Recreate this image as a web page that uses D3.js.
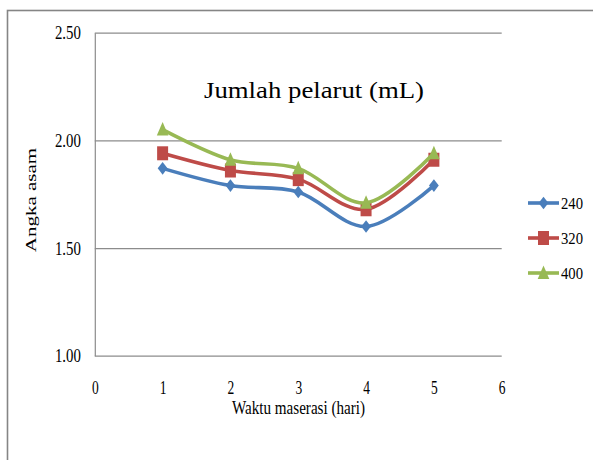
<!DOCTYPE html>
<html>
<head>
<meta charset="utf-8">
<script src="https://cdn.jsdelivr.net/npm/d3@7"></script>
<style>
  html, body { margin: 0; padding: 0; background: #fff; }
  svg { display: block; }
  text { font-family: "Liberation Serif", "Times New Roman", serif; fill: #000; }
</style>
</head>
<body>
<div id="chart"></div>
<script>
// ---- data ----
const days = [1, 2, 3, 4, 5];
const seriesNames = ["240", "320", "400"];
const values240 = [1.87, 1.79, 1.76, 1.60, 1.79];
const values320 = [1.94, 1.86, 1.82, 1.68, 1.91];
const values400 = [2.05, 1.91, 1.87, 1.71, 1.94];
const xTicks = [0, 1, 2, 3, 4, 5, 6];
const yTicks = [1.00, 1.50, 2.00, 2.50];
const titleText = "Jumlah pelarut (mL)";
const xTitle = "Waktu maserasi (hari)";
const yTitle = "Angka asam";

const seriesValues = [values240, values320, values400];
const colors = ["#4a7ebb", "#be4b48", "#98b954"];
const shapes = ["diamond", "square", "triangle"];
const serif = '"Liberation Serif", "Times New Roman", serif';

const W = 593, H = 460;
const svg = d3.select("#chart").append("svg").attr("width", W).attr("height", H)
  .attr("font-family", serif);

// outer frame
svg.append("rect")
  .attr("x", 7.5).attr("y", 10.5).attr("width", 700).attr("height", 600)
  .attr("fill", "none").attr("stroke", "#858585").attr("stroke-width", 1.6);

const x = d3.scaleLinear().domain([0, 6]).range([94.8, 501.7]);
const y = d3.scaleLinear().domain([1, 2.5]).range([355.7, 32.7]);

// y axis with gridlines
const yAxis = d3.axisLeft(y).tickValues(yTicks).tickFormat(d3.format(".2f"))
  .tickSizeInner(-(x(6) - x(0))).tickSizeOuter(0).tickPadding(14);
const gy = svg.append("g").attr("transform", `translate(${x(0)},0)`).call(yAxis)
  .attr("font-family", serif);
gy.select(".domain").attr("stroke", "#8c8c8c").attr("stroke-width", 1.2);
gy.selectAll(".tick line").attr("stroke", "#8c8c8c").attr("stroke-width", 1.2);
gy.selectAll(".tick text")
  .attr("font-size", 19).attr("x", -14 / 0.78)
  .attr("transform", "scale(0.78,1)")
  .style("font-family", serif);

// x axis labels (no line)
const xAxis = d3.axisBottom(x).tickValues(xTicks).tickFormat(d3.format("d")).tickSize(0).tickPadding(0);
const gx = svg.append("g").attr("transform", `translate(0,${y(1)})`).call(xAxis)
  .attr("font-family", serif);
gx.select(".domain").remove();
gx.selectAll(".tick text")
  .attr("font-size", 18).attr("y", 38).attr("dy", 0)
  .attr("transform", "scale(0.75,1)")
  .style("font-family", serif);

// title
svg.append("text").attr("x", 204).attr("y", 97.5)
  .attr("font-size", 24).attr("textLength", 220).attr("lengthAdjust", "spacingAndGlyphs")
  .text(titleText);

// axis titles
svg.append("text").attr("x", 232).attr("y", 414)
  .attr("font-size", 19).attr("textLength", 133).attr("lengthAdjust", "spacingAndGlyphs")
  .text(xTitle);

svg.append("text")
  .attr("transform", `translate(36,200) scale(0.68,1) rotate(-90)`)
  .attr("text-anchor", "middle").attr("font-size", 21)
  .text(yTitle);

// marker paths (non-uniform, matching the reference's squeezed look)
function markerPath(shape) {
  if (shape === "diamond") return "M0,-6.3L4.9,0L0,6.3L-4.9,0Z";
  if (shape === "square") return "M-5.5,-7H5.5V7H-5.5Z";
  return "M0,-7.6L5.8,6H-5.8Z";
}

const line = d3.line()
  .x((d, i) => x(days[i]))
  .y(d => y(d))
  .curve(d3.curveCardinal.tension(0));

seriesValues.forEach((vals, si) => {
  svg.append("path").datum(vals)
    .attr("d", line)
    .attr("fill", "none").attr("stroke", colors[si]).attr("stroke-width", 3.6)
    .attr("stroke-linejoin", "round");
  svg.append("g").selectAll("path").data(vals).join("path")
    .attr("d", markerPath(shapes[si]))
    .attr("transform", (d, i) => `translate(${x(days[i])},${y(d)})`)
    .attr("fill", colors[si]);
});

// legend
const legendY = [203, 238, 273];
seriesNames.forEach((name, si) => {
  const g = svg.append("g").attr("transform", `translate(0,${legendY[si]})`);
  g.append("line").attr("x1", 528).attr("x2", 559).attr("y1", 0).attr("y2", 0)
    .attr("stroke", colors[si]).attr("stroke-width", 3.6);
  g.append("path").attr("d", markerPath(shapes[si]))
    .attr("transform", "translate(543.5,0)").attr("fill", colors[si]);
  g.append("text").attr("x", 561).attr("y", 5.5)
    .attr("font-size", 17).attr("textLength", 22).attr("lengthAdjust", "spacingAndGlyphs")
    .text(name);
});
</script>
</body>
</html>
